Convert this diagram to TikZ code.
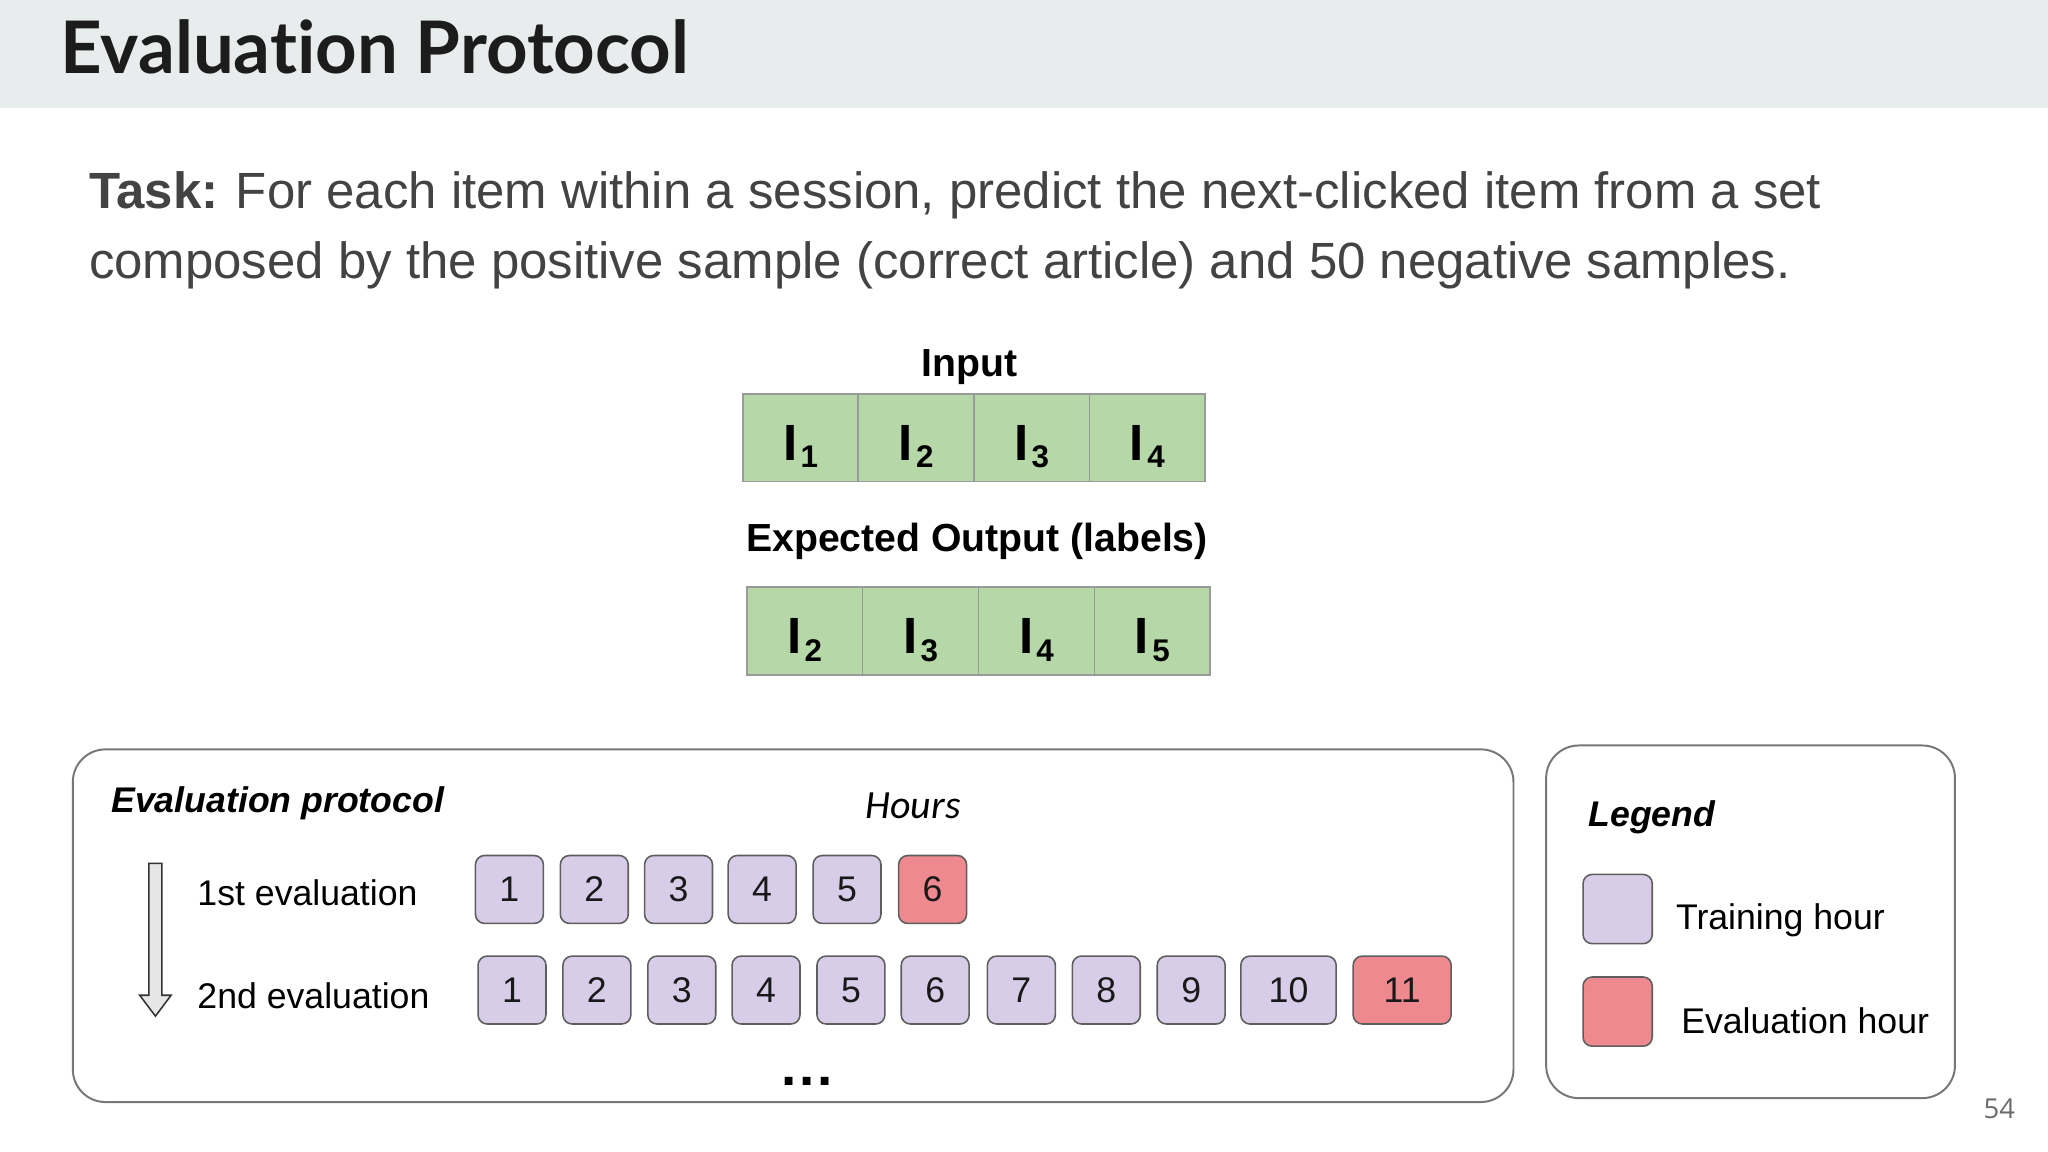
\documentclass[tikz,border=0pt]{standalone}
\usepackage{fontspec}
\setmainfont{Liberation Sans}
\newfontfamily\titlefont[Ligatures={NoCommon}]{Lato}
\newfontfamily\hoursfont{Carlito}
\newfontfamily\pgfont{Open Sans}
\usetikzlibrary{calc}
\definecolor{headbg}{HTML}{E9ECEC}
\definecolor{titlecol}{HTML}{1C1C1C}
\definecolor{taskcol}{HTML}{434343}
\definecolor{cellgreen}{HTML}{B6D7A8}
\definecolor{cellborder}{HTML}{9A9A9A}
\definecolor{trainfill}{HTML}{D8CDE8}
\definecolor{evalfill}{HTML}{EF8990}
\definecolor{hourborder}{HTML}{5E5E5E}
\definecolor{panelborder}{HTML}{777777}
\definecolor{arrowfill}{HTML}{E6E6E6}
\definecolor{pgcol}{HTML}{6B6B6B}
\newcommand{\Isub}[1]{{\fontsize{39}{39}\selectfont\bfseries I}\kern2.5pt\raisebox{-5.5pt}{\fontsize{24}{24}\selectfont\bfseries #1}}
\tikzset{
  cell/.style={draw=cellborder, fill=cellgreen, line width=1.3pt, minimum height=67pt, inner sep=0pt, anchor=north west},
  incell/.style={cell, minimum width=88.5pt},
  outcell/.style={cell, minimum width=88.75pt},
  celltxt/.style={inner sep=0pt, anchor=base},
  hourbox/.style={draw=hourborder, line width=1.2pt, rounded corners=7pt, minimum height=52pt, minimum width=52pt, inner sep=0pt, font=\fontsize{27.3}{27.3}\selectfont, text=black!90},
  train/.style={hourbox, fill=trainfill},
  evalh/.style={hourbox, fill=evalfill},
  panel/.style={draw=panelborder, line width=1.5pt, rounded corners=25pt, fill=white},
  txt/.style={inner sep=0pt, anchor=base west, font=\fontsize{27.3}{27.3}\selectfont},
  head/.style={inner sep=0pt, anchor=base, font=\fontsize{30}{30}\selectfont\bfseries},
  bi/.style={inner sep=0pt, anchor=base west, font=\fontsize{27.3}{27.3}\selectfont\bfseries\itshape}
}
\begin{document}
\begin{tikzpicture}[x=1pt, y=-1pt]
\useasboundingbox (0,0) rectangle (1568,882);
\fill[white] (0,0) rectangle (1568,882);
% header
\fill[headbg] (0,0) rectangle (1568,83);
\node[inner sep=0pt, anchor=base west, text=titlecol, font=\titlefont\bfseries\fontsize{55.5}{55.5}\selectfont] (title) at (46,56) {Evaluation Protocol};
% task text
\node[inner sep=0pt, anchor=base west, text=taskcol, font=\fontsize{39}{39}\selectfont] (task1) at (68,160) {\textbf{Task:}\kern-1pt{} For each item within a session, predict the next-clicked item from a set};
\node[inner sep=0pt, anchor=base west, text=taskcol, font=\fontsize{39}{39}\selectfont] (task2) at (68,213) {composed by the positive sample (correct article) and 50 negative samples.};
% input
\node[head] (inlbl) at (742,288) {Input};
\foreach \i/\l in {0/1,1/2,2/3,3/4} {
  \node[incell] (in\l) at ({568+88.5*\i},301) {};
  \node[celltxt] (in\l t) at ($(in\l.center)+(0,17.5)$) {\Isub{\l}};
}
\node[head] (outlbl) at (748,422) {Expected Output (labels)};
\foreach \i/\l in {0/2,1/3,2/4,3/5} {
  \node[outcell] (out\l) at ({571+88.75*\i},449) {};
  \node[celltxt] (out\l t) at ($(out\l.center)+(0,17.5)$) {\Isub{\l}};
}
% evaluation panel
\node[panel, anchor=north west, minimum width=1103pt, minimum height=270pt] (evalpanel) at (55,573) {};
\node[bi] (evtitle) at (85,622) {Evaluation protocol};
\node[inner sep=0pt, anchor=base, font=\hoursfont\itshape\fontsize{30.6}{30.6}\selectfont] (hours) at (699,627) {Hours};
\node[txt] (first) at (151,693) {1st evaluation};
\node[txt] (second) at (151,772) {2nd evaluation};
% hollow arrow
\filldraw[fill=arrowfill, draw=black!80, line width=1.2pt, line join=miter]
  (114,661) -- (124,661) -- (124,762) -- (131,762) -- (119,778) -- (107,762) -- (114,762) -- cycle;
% row 1
\foreach \x/\l in {390/1,455/2,519.5/3,583.5/4,648.5/5} {
  \node[train] (ra\l) at (\x,681) {\l};
}
\node[evalh] (ra6) at (714,681) {6};
% row 2
\foreach \x/\l in {392/1,457/2,522/3,586.5/4,651.5/5,716/6,782/7,847/8,912/9} {
  \node[train] (rb\l) at (\x,758) {\l};
}
\node[train, minimum width=73pt] (rb10) at (986.5,758) {10};
\node[evalh, minimum width=75pt] (rb11) at (1073.5,758) {11};
\node[inner sep=0pt, anchor=base, font=\fontsize{42}{42}\selectfont\bfseries] (dots) at (618,831) {.\kern2pt.\kern2pt.};
% legend
\node[panel, anchor=north west, minimum width=313pt, minimum height=270pt] (legpanel) at (1183,570) {};
\node[bi] (legtitle) at (1216,633) {Legend};
\node[train, minimum width=53pt, minimum height=53pt] (legtrain) at (1238.5,696) {};
\node[evalh, minimum width=53pt, minimum height=53pt] (legeval) at (1238.5,774.5) {};
\node[txt] (legtraintxt) at (1283,712) {Training hour};
\node[txt] (legevaltxt) at (1287,791) {Evaluation hour};
% page number
\node[inner sep=0pt, anchor=base east, text=pgcol, font=\pgfont\fontsize{21}{21}\selectfont] (pagenum) at (1543,856) {54};
\end{tikzpicture}
\end{document}
